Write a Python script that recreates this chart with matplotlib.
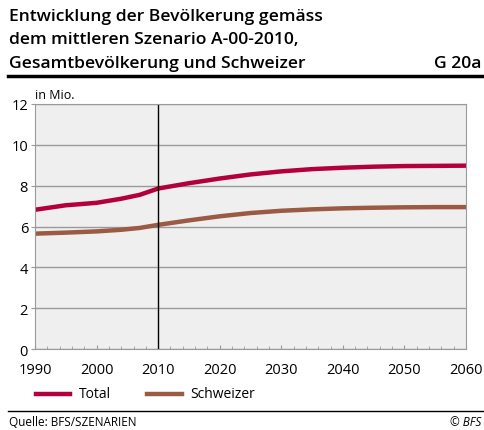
import matplotlib.pyplot as plt
from matplotlib.lines import Line2D

plt.rcParams['font.family'] = ['Open Sans', 'DejaVu Sans']

# Daten (in Mio.)
years = [1990, 1995, 2000, 2004, 2007, 2010, 2015, 2020, 2025, 2030, 2035, 2040, 2045, 2050, 2055, 2060]
total = [6.82, 7.04, 7.16, 7.36, 7.55, 7.86, 8.12, 8.35, 8.55, 8.70, 8.81, 8.88, 8.93, 8.96, 8.97, 8.98]
schweizer = [5.65, 5.70, 5.76, 5.84, 5.93, 6.08, 6.30, 6.50, 6.66, 6.77, 6.84, 6.89, 6.92, 6.94, 6.95, 6.95]
xticks = [1990, 2000, 2010, 2020, 2030, 2040, 2050, 2060]
yticks = [0, 2, 4, 6, 8, 10, 12]
title_lines = ["Entwicklung der Bevölkerung gemäss",
               "dem mittleren Szenario A-00-2010,",
               "Gesamtbevölkerung und Schweizer"]

c_total = "#b3003b"
c_schw = "#9a5a44"

W, H = 485, 431
fig = plt.figure(figsize=(W / 100, H / 100), dpi=100)

def fx(px):
    return px / W

def fy(py):
    return 1 - py / H

# Achsen: links 35px, rechts 466px, oben 105px, unten 350px
ax = fig.add_axes([fx(35), fy(350), fx(466 - 35), (350 - 105) / H])
ax.set_facecolor("#efefef")
ax.plot(years, total, color=c_total, lw=3.2, solid_capstyle="butt")
ax.plot(years, schweizer, color=c_schw, lw=3.2, solid_capstyle="butt")
ax.axvline(2010, color="black", lw=1)

ax.set_xlim(1990, 2060)
ax.set_ylim(0, 12)
ax.set_xticks(xticks)
ax.set_yticks(yticks)
ax.set_xticks(range(1990, 2061, 2), minor=True)
ax.grid(axis="y", color="#9a9a9a", lw=1)
ax.set_axisbelow(True)
for s in ["top", "right", "left", "bottom"]:
    ax.spines[s].set_color("#9a9a9a")
ax.tick_params(axis="x", which="major", direction="in", length=3, color="#9a9a9a",
               labelsize=10.5, pad=9)
ax.tick_params(axis="x", which="minor", direction="in", length=2, color="#9a9a9a")
ax.tick_params(axis="y", direction="out", length=3, color="#9a9a9a", labelsize=10.5, pad=2)

# Titel
for i, line in enumerate(title_lines):
    fig.text(fx(9), fy(21 + 23.5 * i), line, ha="left", va="baseline", fontsize=12.6,
             fontweight="semibold")
fig.text(fx(481), fy(68), "G 20a", ha="right", va="baseline", fontsize=12.6,
         fontweight="semibold")
fig.add_artist(Line2D([fx(8), fx(483)], [fy(77), fy(77)], color="black", lw=2.5))
fig.text(fx(35), fy(99), "in Mio.", ha="left", va="baseline", fontsize=9)

# Legende
fig.add_artist(Line2D([fx(36), fx(70)], [fy(395), fy(395)], color=c_total, lw=3.2))
fig.text(fx(79), fy(395), "Total", ha="left", va="center", fontsize=10)
fig.add_artist(Line2D([fx(147), fx(182)], [fy(395), fy(395)], color=c_schw, lw=3.2))
fig.text(fx(190), fy(395), "Schweizer", ha="left", va="center", fontsize=10)

# Fuss
fig.add_artist(Line2D([fx(8), fx(483)], [fy(412), fy(412)], color="black", lw=1))
fig.text(fx(9), fy(423), "Quelle: BFS/SZENARIEN", ha="left", va="center", fontsize=8.5)
fig.text(fx(481), fy(423), "© BFS", ha="right", va="center", fontsize=8.5, style="italic")

fig.savefig("out.png", dpi=100)
